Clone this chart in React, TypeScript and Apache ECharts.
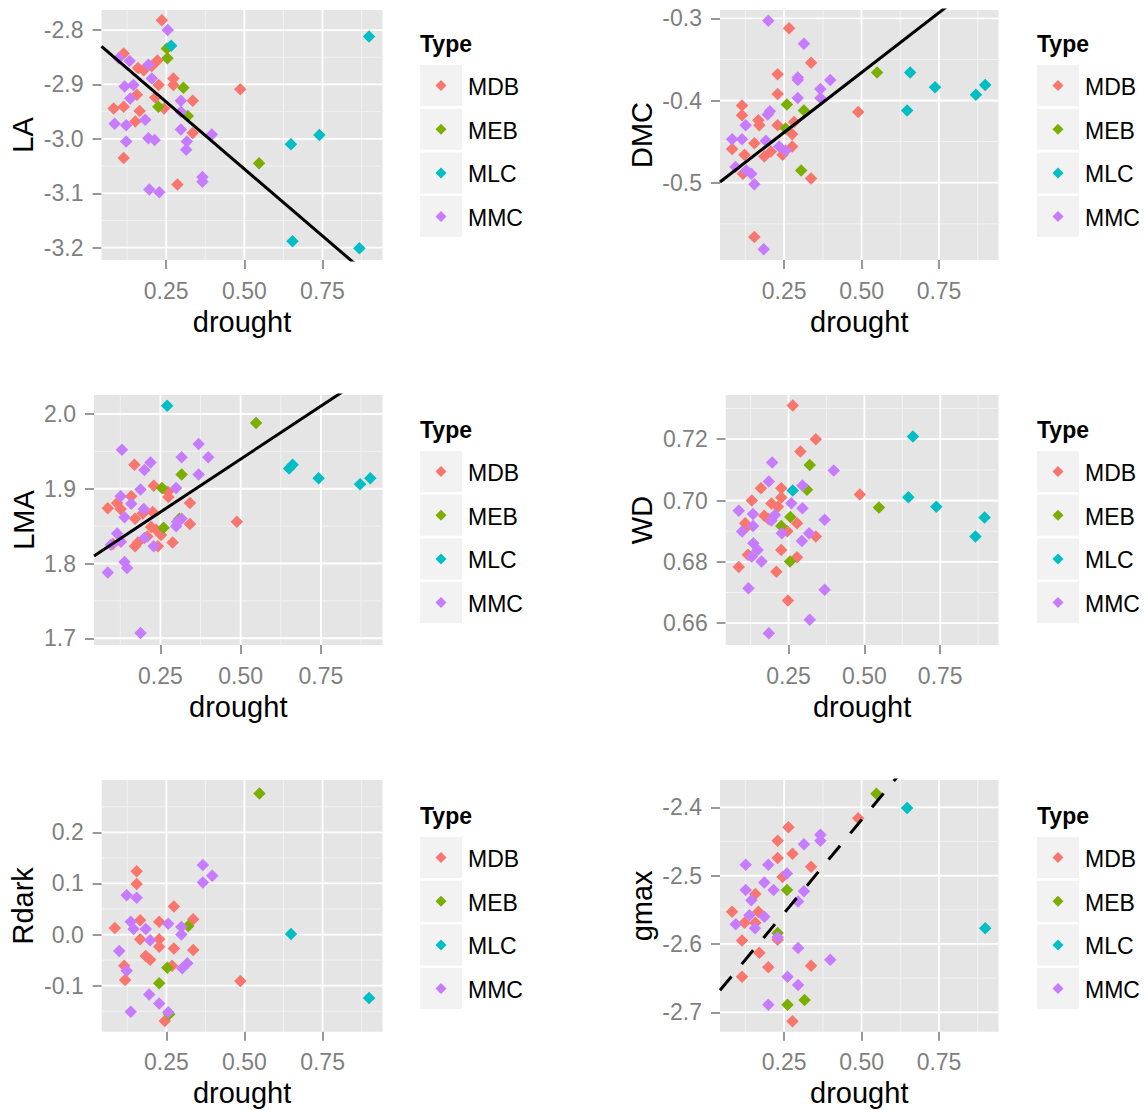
import React, { useEffect, useRef } from "react";
import * as echarts from "echarts";

const TYPES = ["MDB", "MEB", "MLC", "MMC"];
const COLORS = ["#F8766D", "#7CAE00", "#00BFC4", "#C77CFF"];

const X_TICKS = [0.25, 0.5, 0.75];
const X_MINOR = [0.125, 0.375, 0.625, 0.875];
const X_RANGE = [0.043, 0.942];

// ---- LA ----
const LA_MDB = [[0.236,-2.782],[0.114,-2.843],[0.160,-2.870],[0.178,-2.874],[0.204,-2.866],[0.222,-2.856],[0.273,-2.889],[0.273,-2.901],[0.226,-2.901],[0.156,-2.919],[0.215,-2.924],[0.335,-2.930],[0.487,-2.909],[0.082,-2.944],[0.114,-2.941],[0.165,-2.949],[0.151,-2.968],[0.243,-2.944],[0.335,-2.989],[0.114,-3.035],[0.286,-3.084]];
const LA_MEB = [[0.252,-2.834],[0.254,-2.852],[0.305,-2.906],[0.225,-2.941],[0.319,-2.958],[0.547,-3.045]];
const LA_MLC = [[0.266,-2.829],[0.899,-2.812],[0.649,-3.010],[0.740,-2.993],[0.654,-3.188],[0.868,-3.201]];
const LA_MMC = [[0.255,-2.800],[0.098,-2.852],[0.133,-2.857],[0.193,-2.864],[0.204,-2.889],[0.117,-2.904],[0.145,-2.901],[0.135,-2.926],[0.297,-2.930],[0.297,-2.950],[0.085,-2.972],[0.122,-2.975],[0.183,-2.965],[0.297,-2.983],[0.396,-2.992],[0.122,-3.005],[0.193,-2.999],[0.213,-3.002],[0.316,-3.005],[0.314,-3.020],[0.366,-3.070],[0.366,-3.079],[0.196,-3.093],[0.228,-3.098]];

// ---- DMC ----
const DMC_MDB = [[0.266,-0.312],[0.337,-0.354],[0.229,-0.368],[0.229,-0.392],[0.114,-0.406],[0.114,-0.418],[0.489,-0.414],[0.167,-0.424],[0.170,-0.430],[0.229,-0.430],[0.282,-0.426],[0.276,-0.441],[0.154,-0.452],[0.082,-0.459],[0.276,-0.456],[0.122,-0.466],[0.186,-0.468],[0.207,-0.462],[0.245,-0.466],[0.117,-0.489],[0.337,-0.495],[0.154,-0.566]];
const DMC_MEB = [[0.550,-0.366],[0.259,-0.405],[0.314,-0.412],[0.255,-0.434],[0.305,-0.485]];
const DMC_MLC = [[0.657,-0.366],[0.737,-0.384],[0.869,-0.393],[0.899,-0.381],[0.647,-0.412]];
const DMC_MMC = [[0.199,-0.303],[0.314,-0.331],[0.294,-0.372],[0.294,-0.375],[0.399,-0.375],[0.367,-0.386],[0.294,-0.397],[0.367,-0.397],[0.204,-0.413],[0.197,-0.417],[0.126,-0.430],[0.082,-0.447],[0.114,-0.447],[0.191,-0.449],[0.234,-0.456],[0.255,-0.461],[0.093,-0.481],[0.128,-0.485],[0.144,-0.489],[0.154,-0.502],[0.184,-0.581]];

// ---- LMA ----
const LMA_MDB = [[0.169,1.932],[0.229,1.904],[0.273,1.896],[0.275,1.889],[0.159,1.890],[0.086,1.874],[0.115,1.881],[0.126,1.873],[0.171,1.860],[0.195,1.867],[0.226,1.869],[0.342,1.881],[0.342,1.853],[0.488,1.856],[0.221,1.849],[0.237,1.845],[0.252,1.838],[0.209,1.836],[0.288,1.828],[0.171,1.823],[0.180,1.828],[0.242,1.823],[0.102,1.826]];
const LMA_MEB = [[0.548,1.988],[0.316,1.919],[0.255,1.901],[0.309,1.860],[0.260,1.848]];
const LMA_MLC = [[0.271,2.011],[0.651,1.927],[0.662,1.932],[0.743,1.914],[0.872,1.906],[0.904,1.914]];
const LMA_MMC = [[0.130,1.952],[0.369,1.960],[0.399,1.942],[0.316,1.942],[0.219,1.935],[0.200,1.925],[0.369,1.919],[0.188,1.899],[0.299,1.901],[0.126,1.890],[0.159,1.880],[0.198,1.873],[0.138,1.862],[0.302,1.856],[0.299,1.850],[0.316,1.860],[0.115,1.840],[0.127,1.829],[0.200,1.834],[0.229,1.823],[0.096,1.825],[0.138,1.802],[0.146,1.794],[0.086,1.788],[0.188,1.707]];

// ---- WD ----
const WD_MDB = [[0.264,0.731],[0.340,0.720],[0.289,0.716],[0.159,0.704],[0.226,0.704],[0.226,0.701],[0.129,0.700],[0.485,0.702],[0.194,0.699],[0.215,0.698],[0.170,0.695],[0.184,0.694],[0.107,0.6926],[0.113,0.6915],[0.278,0.6926],[0.246,0.690],[0.340,0.6883],[0.226,0.6839],[0.116,0.6823],[0.278,0.6815],[0.086,0.6783],[0.210,0.6768],[0.248,0.6674]];
const WD_MEB = [[0.320,0.7116],[0.311,0.7035],[0.548,0.6977],[0.256,0.6946],[0.226,0.6917],[0.255,0.6801]];
const WD_MLC = [[0.660,0.7209],[0.264,0.7033],[0.645,0.7011],[0.737,0.6980],[0.896,0.6945],[0.866,0.6883]];
const WD_MMC = [[0.196,0.7124],[0.399,0.7098],[0.185,0.7062],[0.296,0.7049],[0.259,0.6991],[0.296,0.6975],[0.086,0.6967],[0.133,0.6956],[0.205,0.6953],[0.194,0.6935],[0.369,0.6937],[0.133,0.6917],[0.097,0.6899],[0.228,0.6893],[0.318,0.6893],[0.294,0.6868],[0.134,0.6861],[0.148,0.6839],[0.129,0.6817],[0.161,0.6801],[0.118,0.6714],[0.369,0.6709],[0.320,0.6611],[0.185,0.6567]];

// ---- Rdark ----
const RD_MDB = [[0.155,0.124],[0.155,0.099],[0.274,0.055],[0.336,0.030],[0.166,0.028],[0.227,0.025],[0.085,0.013],[0.166,-0.009],[0.227,-0.009],[0.227,-0.024],[0.274,-0.027],[0.336,-0.030],[0.184,-0.042],[0.198,-0.049],[0.115,-0.061],[0.268,-0.061],[0.118,-0.089],[0.487,-0.091],[0.245,-0.169]];
const RD_MEB = [[0.548,0.276],[0.320,0.017],[0.253,-0.065],[0.227,-0.095],[0.259,-0.156]];
const RD_MLC = [[0.649,0.001],[0.899,-0.124]];
const RD_MMC = [[0.367,0.136],[0.397,0.115],[0.367,0.102],[0.123,0.077],[0.155,0.072],[0.136,0.025],[0.145,0.011],[0.184,0.011],[0.198,-0.011],[0.256,0.021],[0.298,0.015],[0.298,0.000],[0.099,-0.032],[0.317,-0.056],[0.301,-0.066],[0.123,-0.071],[0.195,-0.117],[0.227,-0.135],[0.136,-0.151],[0.256,-0.152]];

// ---- gmax ----
const GM_MDB = [[0.489,-2.416],[0.264,-2.429],[0.229,-2.449],[0.277,-2.468],[0.229,-2.474],[0.337,-2.487],[0.245,-2.502],[0.157,-2.527],[0.082,-2.553],[0.167,-2.553],[0.122,-2.569],[0.157,-2.569],[0.229,-2.594],[0.114,-2.595],[0.170,-2.613],[0.199,-2.634],[0.337,-2.632],[0.114,-2.648],[0.277,-2.713]];
const GM_MEB = [[0.548,-2.380],[0.259,-2.521],[0.229,-2.584],[0.316,-2.682],[0.261,-2.689]];
const GM_MLC = [[0.647,-2.401],[0.899,-2.577]];
const GM_MMC = [[0.367,-2.440],[0.367,-2.449],[0.314,-2.454],[0.126,-2.484],[0.199,-2.484],[0.259,-2.497],[0.186,-2.510],[0.126,-2.521],[0.216,-2.521],[0.314,-2.523],[0.144,-2.536],[0.295,-2.538],[0.138,-2.558],[0.186,-2.560],[0.094,-2.571],[0.156,-2.577],[0.229,-2.590],[0.295,-2.606],[0.399,-2.623],[0.261,-2.648],[0.295,-2.660],[0.199,-2.689]];

// Y axis ticks
const LA_TICKS = [-3.2, -3.1, -3.0, -2.9, -2.8];
const LA_MINOR = [-3.15, -3.05, -2.95, -2.85];
const DMC_TICKS = [-0.5, -0.4, -0.3];
const DMC_MINOR = [-0.55, -0.45, -0.35];
const LMA_TICKS = [1.7, 1.8, 1.9, 2.0];
const LMA_MINOR = [1.75, 1.85, 1.95];
const WD_TICKS = [0.66, 0.68, 0.7, 0.72];
const WD_MINOR = [0.67, 0.69, 0.71, 0.73];
const RD_TICKS = [-0.1, 0.0, 0.1, 0.2];
const RD_MINOR = [-0.15, -0.05, 0.05, 0.15, 0.25];
const GM_TICKS = [-2.7, -2.6, -2.5, -2.4];
const GM_MINOR = [-2.65, -2.55, -2.45];

// Fitted lines: [intercept, slope]
const LA_FIT = [-2.809, -0.4925];
const DMC_FIT = [-0.5116, 0.2913];
const LMA_FIT = [1.798, 0.2834];
const GM_FIT = [-2.6913, 0.546];

const FONT = "'Liberation Sans', Arial, sans-serif";
const GREY = "#7F7F7F";

type Panel = {
  name: string;
  series: number[][][];
  yRange: number[];
  yTicks: number[];
  yMinor: number[];
  dec: number;
  fit?: number[];
  dashed?: boolean;
  grid: { left: number; top: number; right: number; bottom: number };
  nameGap: number;
  legend: { x: number; y: number };
};

const PANELS: Panel[] = [
  { name: "LA", series: [LA_MDB, LA_MEB, LA_MLC, LA_MMC], yRange: [-3.2226, -2.7632], yTicks: LA_TICKS, yMinor: LA_MINOR, dec: 1, fit: LA_FIT,
    grid: { left: 101.5, top: 10, right: 382.5, bottom: 260 }, nameGap: 64, legend: { x: 420, y: 45 } },
  { name: "DMC", series: [DMC_MDB, DMC_MEB, DMC_MLC, DMC_MMC], yRange: [-0.594, -0.2899], yTicks: DMC_TICKS, yMinor: DMC_MINOR, dec: 1, fit: DMC_FIT,
    grid: { left: 720, top: 10, right: 998.5, bottom: 260 }, nameGap: 64, legend: { x: 1037, y: 45 } },
  { name: "LMA", series: [LMA_MDB, LMA_MEB, LMA_MLC, LMA_MMC], yRange: [1.691, 2.0254], yTicks: LMA_TICKS, yMinor: LMA_MINOR, dec: 1, fit: LMA_FIT,
    grid: { left: 94, top: 395, right: 382.5, bottom: 645 }, nameGap: 56, legend: { x: 420, y: 431 } },
  { name: "WD", series: [WD_MDB, WD_MEB, WD_MLC, WD_MMC], yRange: [0.6529, 0.7344], yTicks: WD_TICKS, yMinor: WD_MINOR, dec: 2,
    grid: { left: 725.7, top: 395, right: 998.5, bottom: 645 }, nameGap: 69, legend: { x: 1037, y: 431 } },
  { name: "Rdark", series: [RD_MDB, RD_MEB, RD_MLC, RD_MMC], yRange: [-0.19, 0.3024], yTicks: RD_TICKS, yMinor: RD_MINOR, dec: 1,
    grid: { left: 101.7, top: 780, right: 382.5, bottom: 1031.7 }, nameGap: 64, legend: { x: 420, y: 817 } },
  { name: "gmax", series: [GM_MDB, GM_MEB, GM_MLC, GM_MMC], yRange: [-2.7284, -2.36], yTicks: GM_TICKS, yMinor: GM_MINOR, dec: 1, fit: GM_FIT, dashed: true,
    grid: { left: 720, top: 780, right: 998.5, bottom: 1031.7 }, nameGap: 64, legend: { x: 1037, y: 817 } },
];

function buildOption() {
  const grid: any[] = [];
  const xAxis: any[] = [];
  const yAxis: any[] = [];
  const series: any[] = [];
  const graphic: any[] = [];

  PANELS.forEach((p, i) => {
    grid.push({
      left: p.grid.left, top: p.grid.top,
      width: p.grid.right - p.grid.left, height: p.grid.bottom - p.grid.top,
      show: true, backgroundColor: "#E5E5E5", borderWidth: 0, containLabel: false,
      outerBoundsMode: "none",
    });
    xAxis.push({
      type: "value", gridIndex: i, min: X_RANGE[0], max: X_RANGE[1], position: "bottom",
      name: "drought", nameLocation: "middle", nameGap: 47,
      nameTextStyle: { fontSize: 29, color: "#000", fontFamily: FONT },
      axisLine: { show: false, onZero: false },
      axisTick: { show: true, customValues: X_TICKS, length: 9, lineStyle: { color: GREY, width: 1.6 } },
      axisLabel: { customValues: X_TICKS, formatter: (v: number) => v.toFixed(2), color: GREY, fontSize: 23, fontFamily: FONT, margin: 19 },
      splitLine: { show: false },
    });
    yAxis.push({
      type: "value", gridIndex: i, min: p.yRange[0], max: p.yRange[1], position: "left",
      name: p.name, nameLocation: "middle", nameGap: p.nameGap, nameRotate: 90,
      nameTextStyle: { fontSize: 29, color: "#000", fontFamily: FONT },
      axisLine: { show: false, onZero: false },
      axisTick: { show: true, customValues: p.yTicks, length: 9, lineStyle: { color: GREY, width: 1.6 } },
      axisLabel: { customValues: p.yTicks, formatter: (v: number) => v.toFixed(p.dec), color: GREY, fontSize: 23, fontFamily: FONT, margin: 18 },
      splitLine: { show: false },
    });

    // grid lines through the axes' scales
    series.push({
      type: "custom", xAxisIndex: i, yAxisIndex: i, silent: true, z: 1,
      data: [[X_RANGE[0], p.yRange[0]]],
      renderItem: (params: any, api: any) => {
        const cs = params.coordSys;
        const x0 = cs.x, x1 = cs.x + cs.width, y0 = cs.y, y1 = cs.y + cs.height;
        const children: any[] = [];
        const vline = (v: number, color: string, w: number) => {
          const px = api.coord([v, p.yRange[0]])[0];
          children.push({ type: "line", shape: { x1: px, y1: y0, x2: px, y2: y1 }, style: { stroke: color, lineWidth: w } });
        };
        const hline = (v: number, color: string, w: number) => {
          const py = api.coord([X_RANGE[0], v])[1];
          children.push({ type: "line", shape: { x1: x0, y1: py, x2: x1, y2: py }, style: { stroke: color, lineWidth: w } });
        };
        X_MINOR.forEach((v) => vline(v, "#F2F2F2", 1));
        p.yMinor.forEach((v) => hline(v, "#F2F2F2", 1));
        X_TICKS.forEach((v) => vline(v, "#FFFFFF", 1.8));
        p.yTicks.forEach((v) => hline(v, "#FFFFFF", 1.8));
        return { type: "group", children };
      },
    });

    p.series.forEach((d, k) => {
      series.push({
        type: "scatter", name: TYPES[k], xAxisIndex: i, yAxisIndex: i, z: 3,
        data: d, symbol: "diamond", symbolSize: 12.5,
        itemStyle: { color: COLORS[k], opacity: 1 },
      });
    });

    if (p.fit) {
      const [a, b] = p.fit;
      series.push({
        type: "line", xAxisIndex: i, yAxisIndex: i, z: 4, clip: true,
        data: [[X_RANGE[0], a + b * X_RANGE[0]], [X_RANGE[1], a + b * X_RANGE[1]]],
        symbol: "none", showSymbol: false, silent: true,
        lineStyle: { color: "#000", width: 3, type: p.dashed ? [18, 16] : "solid" },
      });
    }

    // legend (graphic)
    const lx = p.legend.x, ly = p.legend.y;
    graphic.push({
      type: "text", left: lx, top: ly - 13,
      style: { text: "Type", fontSize: 23, fontWeight: "bold", fill: "#000", fontFamily: FONT },
    });
    TYPES.forEach((t, k) => {
      const top = ly + 20 + k * 43.7;
      const cy = top + 20.5;
      graphic.push({ type: "rect", shape: { x: lx, y: top, width: 42, height: 41 }, style: { fill: "#F2F2F2" } });
      graphic.push({
        type: "polygon",
        shape: { points: [[lx + 21, cy - 5.5], [lx + 26.5, cy], [lx + 21, cy + 5.5], [lx + 15.5, cy]] },
        style: { fill: COLORS[k] },
      });
      graphic.push({
        type: "text", x: lx + 48, y: cy + 1.5,
        style: { text: t, fontSize: 23, fill: "#000", fontFamily: FONT, verticalAlign: "middle", textVerticalAlign: "middle" },
      });
    });
  });

  return { animation: false, backgroundColor: "#FFFFFF", grid, xAxis, yAxis, series, graphic };
}

export default function App() {
  const ref = useRef<HTMLDivElement>(null);
  useEffect(() => {
    document.body.style.margin = "0";
    if (!ref.current) return;
    const chart = echarts.init(ref.current, null, { renderer: "svg" });
    chart.setOption(buildOption() as any);
    return () => chart.dispose();
  }, []);
  return <div ref={ref} style={{ width: 1146, height: 1110 }} />;
}
